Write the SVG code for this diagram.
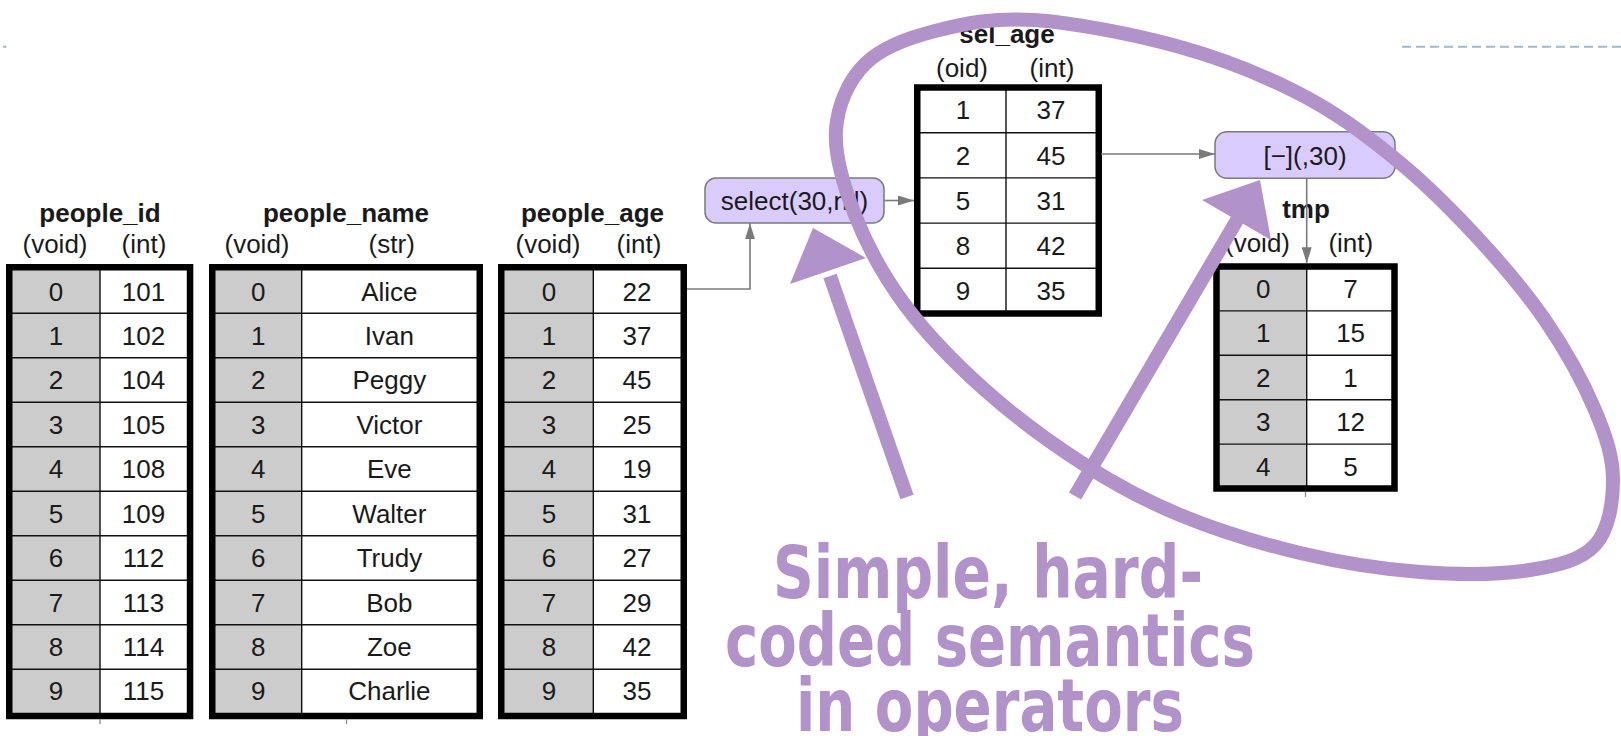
<svg xmlns="http://www.w3.org/2000/svg" width="1621" height="736" viewBox="0 0 1621 736">
  <defs>
    <style>
      .t { font-family: "Liberation Sans", Arial, sans-serif; font-size: 26px; fill: #1a1a1a; text-anchor: middle; }
      .title { font-weight: bold; }
      .key { fill: #cccccc; }
      .val { fill: #ffffff; }
      .grid { stroke: #111; stroke-width: 1.4; fill: none; }
      .frame { stroke: #000; stroke-width: 6.5; fill: none; }
      .op { fill: #dacbfd; stroke: #7a7a7a; stroke-width: 1.5; }
      .conn { stroke: #7a7a7a; stroke-width: 1.6; fill: none; }
      .tick { stroke: #8a8a8a; stroke-width: 1.3; }
      .note { stroke: #b192c9; fill: none; stroke-width: 14; }
      .head { fill: #b192c9; }
      .msg { font-family: "DejaVu Sans Condensed", "DejaVu Sans", Verdana, sans-serif; font-weight: bold; font-size: 73px; fill: #b192c9; text-anchor: middle; }
    </style>
    <marker id="arr" markerUnits="userSpaceOnUse" markerWidth="16" markerHeight="10" refX="16" refY="5" orient="auto">
      <path d="M0 0L16 5L0 10z" fill="#7a7a7a"/>
    </marker>
  </defs>

  <!-- slide rule -->
  <line x1="3" y1="46.7" x2="6.5" y2="46.7" stroke="#a3b8cc" stroke-width="2"/>
  <line x1="1402" y1="46.7" x2="1621" y2="46.7" stroke="#a3b8cc" stroke-width="2" stroke-dasharray="9 5"/>

  <!-- people_id -->
  <g id="people_id">
    <text class="t title" x="100" y="222">people_id</text>
    <text class="t" x="55" y="253">(void)</text>
    <text class="t" x="144" y="253">(int)</text>
    <rect class="key" x="9" y="267" width="91" height="449"/>
    <rect class="val" x="100" y="267" width="90" height="449"/>
    <path class="grid" d="M100 267V716M9 313.3H190M9 357.8H190M9 402.3H190M9 446.8H190M9 491.3H190M9 535.8H190M9 580.3H190M9 624.8H190M9 669.3H190"/>
    <rect class="frame" x="9.25" y="267.25" width="180.8" height="448.75"/>
    <g class="t">
      <text x="56" y="301">0</text><text x="143.5" y="301">101</text>
      <text x="56" y="344.9">1</text><text x="143.5" y="344.9">102</text>
      <text x="56" y="389.4">2</text><text x="143.5" y="389.4">104</text>
      <text x="56" y="433.9">3</text><text x="143.5" y="433.9">105</text>
      <text x="56" y="478.4">4</text><text x="143.5" y="478.4">108</text>
      <text x="56" y="522.9">5</text><text x="143.5" y="522.9">109</text>
      <text x="56" y="567.4">6</text><text x="143.5" y="567.4">112</text>
      <text x="56" y="611.9">7</text><text x="143.5" y="611.9">113</text>
      <text x="56" y="656.4">8</text><text x="143.5" y="656.4">114</text>
      <text x="56" y="700.3">9</text><text x="143.5" y="700.3">115</text>
    </g>
    <line class="tick" x1="100" y1="719" x2="100" y2="724"/>
  </g>

  <!-- people_name -->
  <g id="people_name">
    <text class="t title" x="346" y="222">people_name</text>
    <text class="t" x="257" y="253">(void)</text>
    <text class="t" x="391.7" y="253">(str)</text>
    <rect class="key" x="212" y="267" width="89.7" height="449"/>
    <rect class="val" x="301.7" y="267" width="178" height="449"/>
    <path class="grid" d="M301.7 267V716M212 313.3H480M212 357.8H480M212 402.3H480M212 446.8H480M212 491.3H480M212 535.8H480M212 580.3H480M212 624.8H480M212 669.3H480"/>
    <rect class="frame" x="212.25" y="267.25" width="267.5" height="448.75"/>
    <g class="t">
      <text x="258.3" y="301">0</text><text x="389.4" y="301">Alice</text>
      <text x="258.3" y="344.9">1</text><text x="389.4" y="344.9">Ivan</text>
      <text x="258.3" y="389.4">2</text><text x="389.4" y="389.4">Peggy</text>
      <text x="258.3" y="433.9">3</text><text x="389.4" y="433.9">Victor</text>
      <text x="258.3" y="478.4">4</text><text x="389.4" y="478.4">Eve</text>
      <text x="258.3" y="522.9">5</text><text x="389.4" y="522.9">Walter</text>
      <text x="258.3" y="567.4">6</text><text x="389.4" y="567.4">Trudy</text>
      <text x="258.3" y="611.9">7</text><text x="389.4" y="611.9">Bob</text>
      <text x="258.3" y="656.4">8</text><text x="389.4" y="656.4">Zoe</text>
      <text x="258.3" y="700.3">9</text><text x="389.4" y="700.3">Charlie</text>
    </g>
    <line class="tick" x1="346.5" y1="719" x2="346.5" y2="724"/>
  </g>

  <!-- people_age -->
  <g id="people_age">
    <text class="t title" x="592.5" y="222">people_age</text>
    <text class="t" x="548" y="253">(void)</text>
    <text class="t" x="639" y="253">(int)</text>
    <rect class="key" x="501" y="267" width="92.3" height="449"/>
    <rect class="val" x="593.3" y="267" width="90.5" height="449"/>
    <path class="grid" d="M593.3 267V716M501 313.3H684M501 357.8H684M501 402.3H684M501 446.8H684M501 491.3H684M501 535.8H684M501 580.3H684M501 624.8H684M501 669.3H684"/>
    <rect class="frame" x="501.25" y="267.25" width="182.5" height="448.75"/>
    <g class="t">
      <text x="549" y="301">0</text><text x="637" y="301">22</text>
      <text x="549" y="344.9">1</text><text x="637" y="344.9">37</text>
      <text x="549" y="389.4">2</text><text x="637" y="389.4">45</text>
      <text x="549" y="433.9">3</text><text x="637" y="433.9">25</text>
      <text x="549" y="478.4">4</text><text x="637" y="478.4">19</text>
      <text x="549" y="522.9">5</text><text x="637" y="522.9">31</text>
      <text x="549" y="567.4">6</text><text x="637" y="567.4">27</text>
      <text x="549" y="611.9">7</text><text x="637" y="611.9">29</text>
      <text x="549" y="656.4">8</text><text x="637" y="656.4">42</text>
      <text x="549" y="700.3">9</text><text x="637" y="700.3">35</text>
    </g>
  </g>

  <!-- sel_age -->
  <g id="sel_age">
    <text class="t title" x="1007" y="43">sel_age</text>
    <text class="t" x="962" y="76.5">(oid)</text>
    <text class="t" x="1052" y="76.5">(int)</text>
    <rect class="val" x="917" y="87.5" width="182" height="226"/>
    <path class="grid" d="M1006 87.5V313.5M917 132.7H1099M917 177.9H1099M917 223.1H1099M917 268.3H1099"/>
    <rect class="frame" x="917.25" y="87.5" width="181.5" height="226"/>
    <g class="t">
      <text x="963" y="119.4">1</text><text x="1051" y="119.4">37</text>
      <text x="963" y="164.6">2</text><text x="1051" y="164.6">45</text>
      <text x="963" y="209.8">5</text><text x="1051" y="209.8">31</text>
      <text x="963" y="255">8</text><text x="1051" y="255">42</text>
      <text x="963" y="300.2">9</text><text x="1051" y="300.2">35</text>
    </g>
  </g>

  <!-- tmp -->
  <g id="tmp">
    <text class="t title" x="1306" y="218">tmp</text>
    <text class="t" x="1257.5" y="252">(void)</text>
    <text class="t" x="1350.8" y="252">(int)</text>
    <rect class="key" x="1216.5" y="266.5" width="90.2" height="222"/>
    <rect class="val" x="1306.7" y="266.5" width="88" height="222"/>
    <path class="grid" d="M1306.7 266.5V488.5M1216.5 310.9H1394.5M1216.5 355.3H1394.5M1216.5 399.7H1394.5M1216.5 444.1H1394.5"/>
    <rect class="frame" x="1216.5" y="266.5" width="178" height="222"/>
    <g class="t">
      <text x="1263.2" y="298">0</text><text x="1350.6" y="298">7</text>
      <text x="1263.2" y="342.4">1</text><text x="1350.6" y="342.4">15</text>
      <text x="1263.2" y="386.8">2</text><text x="1350.6" y="386.8">1</text>
      <text x="1263.2" y="431.2">3</text><text x="1350.6" y="431.2">12</text>
      <text x="1263.2" y="475.6">4</text><text x="1350.6" y="475.6">5</text>
    </g>
    <line class="tick" x1="1305.5" y1="492" x2="1305.5" y2="497"/>
  </g>

  <!-- operators -->
  <g id="op_select">
    <rect class="op" x="705" y="178" width="179" height="45" rx="11"/>
    <text class="t" x="794.5" y="210">select(30,nil)</text>
  </g>
  <g id="op_minus">
    <rect class="op" x="1215" y="131.7" width="180" height="46.6" rx="12"/>
    <text class="t" x="1305" y="164.5">[−](,30)</text>
  </g>

  <!-- data flow -->
  <g id="connectors">
    <path class="conn" d="M687 289H750V223.3" marker-end="url(#arr)"/>
    <path class="conn" d="M884 200.5H914" marker-end="url(#arr)"/>
    <path class="conn" d="M1101 154H1215" marker-end="url(#arr)"/>
    <path class="conn" d="M1306.7 178.3V263.3" marker-end="url(#arr)"/>
  </g>

  <!-- annotation -->
  <g id="annotation">
    <path class="note" d="M1034 20C1074.8 22.7 1135.7 34.7 1180 47C1224.3 59.3 1264.5 75.7 1300 94C1335.5 112.3 1363.8 133.5 1393 157C1422.2 180.5 1449.7 207.8 1475 235C1500.3 262.2 1525 290.8 1545 320C1565 349.2 1583.7 383.3 1595 410C1606.3 436.7 1613 457.5 1613 480C1613 502.5 1608.8 530 1595 545C1581.2 560 1559.2 565.5 1530 570C1500.8 574.5 1458.3 574.8 1420 572C1381.7 569.2 1340 562.5 1300 553C1260 543.5 1215.8 529.7 1180 515C1144.2 500.3 1117.5 485.8 1085 465C1052.5 444.2 1015 416.7 985 390C955 363.3 926.7 334.2 905 305C883.3 275.8 866.5 244.2 855 215C843.5 185.8 834.3 155.2 836 130C837.7 104.8 848.5 80.5 865 64C881.5 47.5 906.8 38.3 935 31C963.2 23.7 993.2 17.3 1034 20Z"/>
    <line class="note" x1="907" y1="497" x2="830" y2="276"/>
    <polygon class="head" points="813,228 790,284 866,258"/>
    <line class="note" x1="1075" y1="496" x2="1240" y2="215"/>
    <polygon class="head" points="1260,180 1202,200 1271,240"/>
    <text class="msg" x="988" y="598" textLength="430" lengthAdjust="spacingAndGlyphs">Simple, hard-</text>
    <text class="msg" x="990" y="666" textLength="530" lengthAdjust="spacingAndGlyphs">coded semantics</text>
    <text class="msg" x="990" y="731" textLength="388" lengthAdjust="spacingAndGlyphs">in operators</text>
  </g>
</svg>
